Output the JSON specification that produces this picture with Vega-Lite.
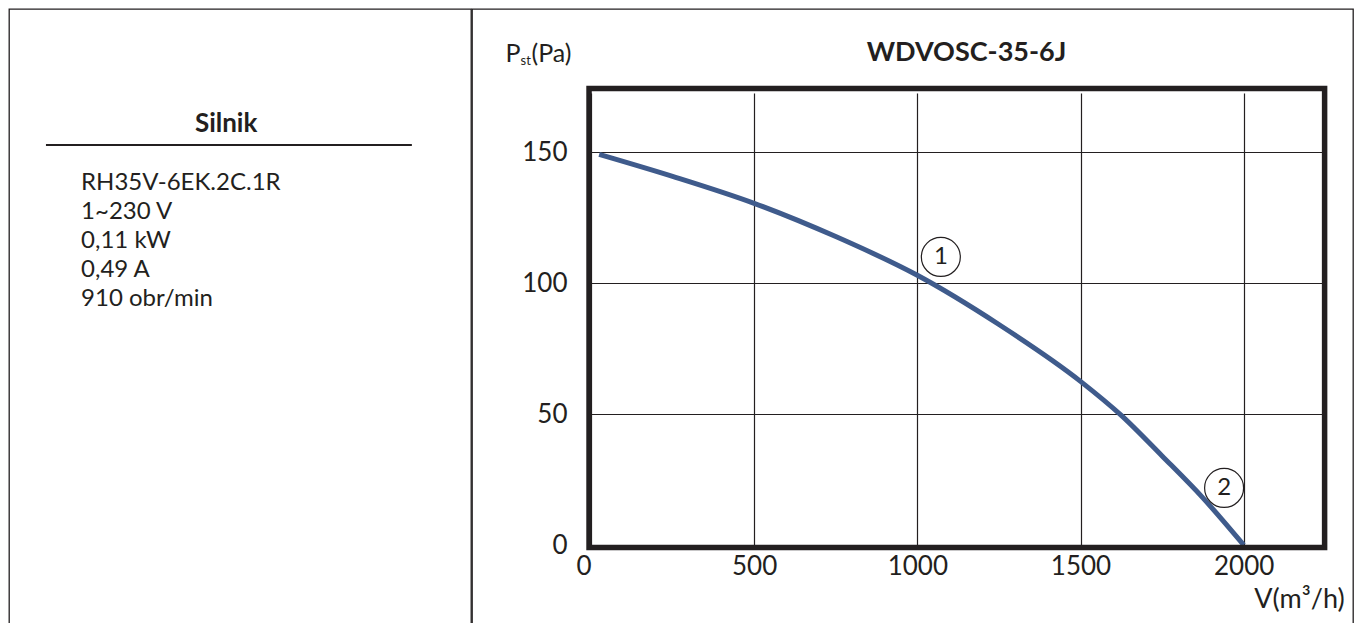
{
  "$schema": "https://vega.github.io/schema/vega-lite/v6.json",
  "padding": {"left": 8, "top": 8, "right": 0, "bottom": 0},
  "background": "white",
  "spacing": -3,
  "config": {
    "font": "Lato",
    "view": {"stroke": "#231f20", "strokeWidth": 1.3},
    "axis": {"labelFont": "Lato", "titleFont": "Lato", "labelColor": "#231f20", "titleColor": "#231f20"}
  },
  "datasets": {
    "motor": [
      {"row": 0, "kind": "head", "text": "Silnik"},
      {"row": 2, "kind": "spec", "text": "RH35V-6EK.2C.1R"},
      {"row": 3, "kind": "spec", "text": "1~230 V"},
      {"row": 4, "kind": "spec", "text": "0,11 kW"},
      {"row": 5, "kind": "spec", "text": "0,49 A"},
      {"row": 6, "kind": "spec", "text": "910 obr/min"}
    ],
    "curve": [
      {"Q": 25, "P": 149.2},
      {"Q": 250, "P": 140.8},
      {"Q": 500, "P": 130.5},
      {"Q": 750, "P": 117.8},
      {"Q": 1000, "P": 103},
      {"Q": 1250, "P": 84.2},
      {"Q": 1500, "P": 62.5},
      {"Q": 1625, "P": 49.5},
      {"Q": 1750, "P": 34},
      {"Q": 1875, "P": 18},
      {"Q": 2000, "P": 0}
    ],
    "points": [
      {"Q": 1072, "P": 110, "label": "1"},
      {"Q": 1940, "P": 21.8, "label": "2"}
    ]
  },
  "hconcat": [
    {
      "width": 462,
      "height": 620,
      "data": {"name": "motor"},
      "layer": [
        {
          "transform": [{"filter": "datum.kind === 'head'"}],
          "mark": {"type": "text", "font": "Lato", "fontWeight": "bold", "fontSize": 26, "align": "center", "baseline": "alphabetic", "color": "#231f20"},
          "encoding": {
            "x": {"datum": 0.47, "type": "quantitative", "scale": {"domain": [0, 1], "range": [0, 462], "nice": false, "zero": false}, "axis": null},
            "y": {"field": "row", "type": "quantitative", "scale": {"domain": [0, 6], "range": [122.5, 296.5], "nice": false, "zero": false}, "axis": null},
            "text": {"field": "text"}
          }
        },
        {
          "transform": [{"filter": "datum.kind === 'head'"}],
          "mark": {"type": "rule", "color": "#231f20", "strokeWidth": 2, "yOffset": 13.5},
          "encoding": {
            "x": {"datum": 0.08, "type": "quantitative", "scale": {"domain": [0, 1], "range": [0, 462], "nice": false, "zero": false}, "axis": null},
            "x2": {"datum": 0.872},
            "y": {"field": "row", "type": "quantitative", "scale": {"domain": [0, 6], "range": [122.5, 296.5], "nice": false, "zero": false}, "axis": null}
          }
        },
        {
          "transform": [{"filter": "datum.kind === 'spec'"}],
          "mark": {"type": "text", "font": "Lato", "fontSize": 24, "align": "left", "baseline": "alphabetic", "color": "#231f20"},
          "encoding": {
            "x": {"datum": 0.156, "type": "quantitative", "scale": {"domain": [0, 1], "range": [0, 462], "nice": false, "zero": false}, "axis": null},
            "y": {"field": "row", "type": "quantitative", "scale": {"domain": [0, 6], "range": [122.5, 296.5], "nice": false, "zero": false}, "axis": null},
            "text": {"field": "text"}
          }
        }
      ]
    },
    {
      "width": 881,
      "height": 620,
      "title": {"text": "WDVOSC-35-6J", "font": "Lato", "fontSize": 27, "fontWeight": "bold", "color": "#231f20", "anchor": "middle", "frame": "group", "dx": 54, "offset": -79, "baseline": "alphabetic"},
      "resolve": {"axis": {"x": "independent", "y": "independent"}},
      "layer": [
        {
          "data": {"name": "curve"},
          "mark": {"type": "line", "color": "#3f5b8c", "strokeWidth": 5, "interpolate": "monotone"},
          "encoding": {
            "x": {
              "field": "Q", "type": "quantitative",
              "scale": {"domain": [0, 2240], "range": [119, 850], "nice": false, "zero": false},
              "axis": {
                "orient": "bottom", "offset": -84, "values": [0, 500, 1000, 1500, 2000], "format": "d",
                "grid": true, "gridColor": "#231f20", "gridWidth": 1.2, "gridOpacity": 1,
                "domain": false, "ticks": false, "tickSize": 0,
                "labelFontSize": 26, "labelPadding": 8, "labelFlush": false, "labelOverlap": false,
                "labelAlign": {"condition": {"test": "datum.value === 0", "value": "right"}, "value": "center"},
                "labelBaseline": "top",
                "title": "V(m³/h)", "titleFontSize": 27, "titleFontWeight": "normal",
                "titleX": 827, "titleY": 62, "titleAlign": "center", "titleBaseline": "alphabetic"
              }
            },
            "y": {
              "field": "P", "type": "quantitative",
              "scale": {"domain": [0, 173], "range": [536, 83], "nice": false, "zero": false},
              "axis": {
                "orient": "left", "offset": -119, "values": [0, 50, 100, 150], "format": "d",
                "grid": true, "gridColor": "#231f20", "gridWidth": 1.2, "gridOpacity": 1,
                "domain": false, "ticks": false, "tickSize": 0,
                "labelFontSize": 26, "labelPadding": 24, "labelFlush": false, "labelOverlap": false,
                "title": "P", "titleAngle": 0, "titleFontSize": 25, "titleFontWeight": "normal",
                "titleX": -86, "titleY": 52, "titleAlign": "left", "titleBaseline": "alphabetic"
              }
            }
          }
        },
        {
          "data": {"values": [{"frame": "plot"}]},
          "mark": {"type": "rect", "filled": false, "color": "#231f20", "strokeWidth": 5.5},
          "encoding": {
            "x": {"datum": -6, "type": "quantitative", "scale": {"domain": [0, 2240], "range": [119, 850], "nice": false, "zero": false}, "axis": null},
            "x2": {"datum": 2248},
            "y": {"datum": -1, "type": "quantitative", "scale": {"domain": [0, 173], "range": [536, 83], "nice": false, "zero": false}, "axis": null},
            "y2": {"datum": 174.3}
          }
        },
        {
          "data": {"name": "points"},
          "mark": {"type": "point", "shape": "circle", "size": 1520, "filled": false, "color": "#231f20", "strokeWidth": 1.2, "opacity": 1},
          "encoding": {
            "x": {
              "field": "Q", "type": "quantitative",
              "scale": {"domain": [0, 2240], "range": [119, 850], "nice": false, "zero": false},
              "axis": {"orient": "top", "labels": false, "ticks": false, "domain": false, "grid": false,
                "title": "st", "titleFontSize": 13, "titleFontWeight": "normal",
                "titleX": 48, "titleY": 55, "titleAlign": "left", "titleBaseline": "alphabetic"}
            },
            "y": {
              "field": "P", "type": "quantitative",
              "scale": {"domain": [0, 173], "range": [536, 83], "nice": false, "zero": false},
              "axis": {"orient": "right", "labels": false, "ticks": false, "domain": false, "grid": false,
                "title": "(Pa)", "titleAngle": 0, "titleFontSize": 25, "titleFontWeight": "normal",
                "titleX": -822, "titleY": 52, "titleAlign": "left", "titleBaseline": "alphabetic"}
            }
          }
        },
        {
          "data": {"name": "points"},
          "mark": {"type": "text", "font": "Lato", "fontSize": 24, "align": "center", "baseline": "middle", "color": "#231f20"},
          "encoding": {
            "x": {"field": "Q", "type": "quantitative", "scale": {"domain": [0, 2240], "range": [119, 850], "nice": false, "zero": false}, "axis": null},
            "y": {"field": "P", "type": "quantitative", "scale": {"domain": [0, 173], "range": [536, 83], "nice": false, "zero": false}, "axis": null},
            "text": {"field": "label"}
          }
        }
      ]
    }
  ]
}
